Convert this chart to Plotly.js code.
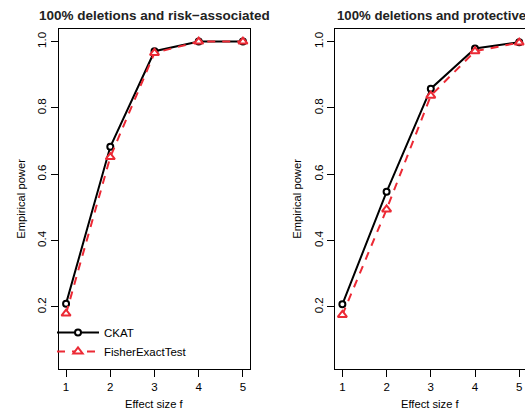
<!DOCTYPE html>
<html>
<head>
<meta charset="utf-8">
<script src="https://cdn.plot.ly/plotly-3.0.1.min.js"></script>
<style>
html,body{margin:0;padding:0;overflow:hidden;background:#fff;}
#chart{width:530px;height:414px;}
</style>
</head>
<body>
<div id="chart"></div>
<script>
// Data
const effectSize = [1, 2, 3, 4, 5];
const ckatRisk = [0.21, 0.683, 0.971, 1.0, 1.0];
const fetRisk = [0.18, 0.652, 0.966, 1.0, 1.0];
const ckatProt = [0.208, 0.547, 0.858, 0.979, 0.998];
const fetProt = [0.176, 0.494, 0.837, 0.971, 0.997];
const seriesNames = ["CKAT", "FisherExactTest"];
const panelTitles = ["100% deletions and risk\u2212associated", "100% deletions and protective"];
const xTickVals = [1, 2, 3, 4, 5];
const yTickVals = [0.2, 0.4, 0.6, 0.8, 1.0];
const yTickText = ["0.2", "0.4", "0.6", "0.8", "1.0"];

const W = 530, H = 414;
const RED = "#ec2a35";
const FONT = "Liberation Sans, Arial, Helvetica, sans-serif";

function ckatTrace(y, xa, ya, show) {
  return {
    x: effectSize, y: y, xaxis: xa, yaxis: ya, name: seriesNames[0],
    type: "scatter", mode: "lines+markers", showlegend: show,
    line: {color: "#000", width: 2},
    marker: {symbol: "circle", size: 6, color: "#fff", line: {color: "#000", width: 2}}
  };
}
function fetTrace(y, xa, ya, show) {
  return {
    x: effectSize, y: y, xaxis: xa, yaxis: ya, name: seriesNames[1],
    type: "scatter", mode: "lines+markers", showlegend: show,
    line: {color: RED, width: 2, dash: "8px,7px"},
    marker: {symbol: "triangle-up", size: 8, color: "#fff", line: {color: RED, width: 2}}
  };
}

const data = [
  ckatTrace(ckatRisk, "x", "y", true),
  fetTrace(fetRisk, "x", "y", true),
  ckatTrace(ckatProt, "x2", "y2", false),
  fetTrace(fetProt, "x2", "y2", false)
];

const px = v => v / W;
const py = v => (H - v) / H;

const xBase = {
  range: [0.84, 5.16], tickmode: "array", tickvals: xTickVals,
  ticks: "outside", ticklen: 7, tickwidth: 1, tickcolor: "#000",
  showline: true, mirror: true, linecolor: "#000", linewidth: 1,
  showgrid: false, zeroline: false,
  tickfont: {family: FONT, size: 11.5, color: "#000"}
};
const yBase = {
  range: [0.012, 1.038], tickmode: "array", tickvals: yTickVals, ticktext: yTickText,
  ticks: "outside", ticklen: 7, tickwidth: 1, tickcolor: "#000",
  showline: true, mirror: true, linecolor: "#000", linewidth: 1,
  showgrid: false, zeroline: false, tickangle: -90,
  tickfont: {family: FONT, size: 11.5, color: "#000"}
};

const yDom = [py(369.3), py(29)];

const layout = {
  width: W, height: H,
  margin: {l: 0, r: 0, t: 0, b: 0},
  paper_bgcolor: "#fff", plot_bgcolor: "#fff",
  font: {family: FONT, color: "#000"},
  xaxis: Object.assign({}, xBase, {domain: [px(59), px(250)], anchor: "y"}),
  yaxis: Object.assign({}, yBase, {domain: yDom, anchor: "x"}),
  xaxis2: Object.assign({}, xBase, {domain: [px(335.3), px(526.3)], anchor: "y2"}),
  yaxis2: Object.assign({}, yBase, {domain: yDom, anchor: "x2"}),
  showlegend: true,
  legend: {
    x: px(52), y: py(318), xanchor: "left", yanchor: "top",
    bgcolor: "rgba(0,0,0,0)", borderwidth: 0,
    itemwidth: 42,
    font: {family: FONT, size: 11.5, color: "#000"},
    tracegroupgap: 0
  },
  annotations: [
    {text: "<b>" + panelTitles[0] + "</b>", x: px(154.5), y: py(15), xref: "paper", yref: "paper",
     showarrow: false, xanchor: "center", yanchor: "middle", font: {family: FONT, size: 13.5, color: "#222"}},
    {text: "<b>" + panelTitles[1] + "</b>", x: px(335), y: py(15), xref: "paper", yref: "paper",
     showarrow: false, xanchor: "left", yanchor: "middle", font: {family: FONT, size: 13.2, color: "#222"}},
    {text: "Effect size f", x: px(154.5), y: py(404), xref: "paper", yref: "paper",
     showarrow: false, xanchor: "center", yanchor: "middle", font: {family: FONT, size: 11.2, color: "#000"}},
    {text: "Effect size f", x: px(430.8), y: py(404), xref: "paper", yref: "paper",
     showarrow: false, xanchor: "center", yanchor: "middle", font: {family: FONT, size: 11.2, color: "#000"}},
    {text: "Empirical power", x: px(20.7), y: py(199), xref: "paper", yref: "paper", textangle: -90,
     showarrow: false, xanchor: "center", yanchor: "middle", font: {family: FONT, size: 11.2, color: "#000"}},
    {text: "Empirical power", x: px(296.7), y: py(199), xref: "paper", yref: "paper", textangle: -90,
     showarrow: false, xanchor: "center", yanchor: "middle", font: {family: FONT, size: 11.2, color: "#000"}}
  ]
};

Plotly.newPlot("chart", data, layout, {displayModeBar: false, staticPlot: true});
</script>
</body>
</html>
